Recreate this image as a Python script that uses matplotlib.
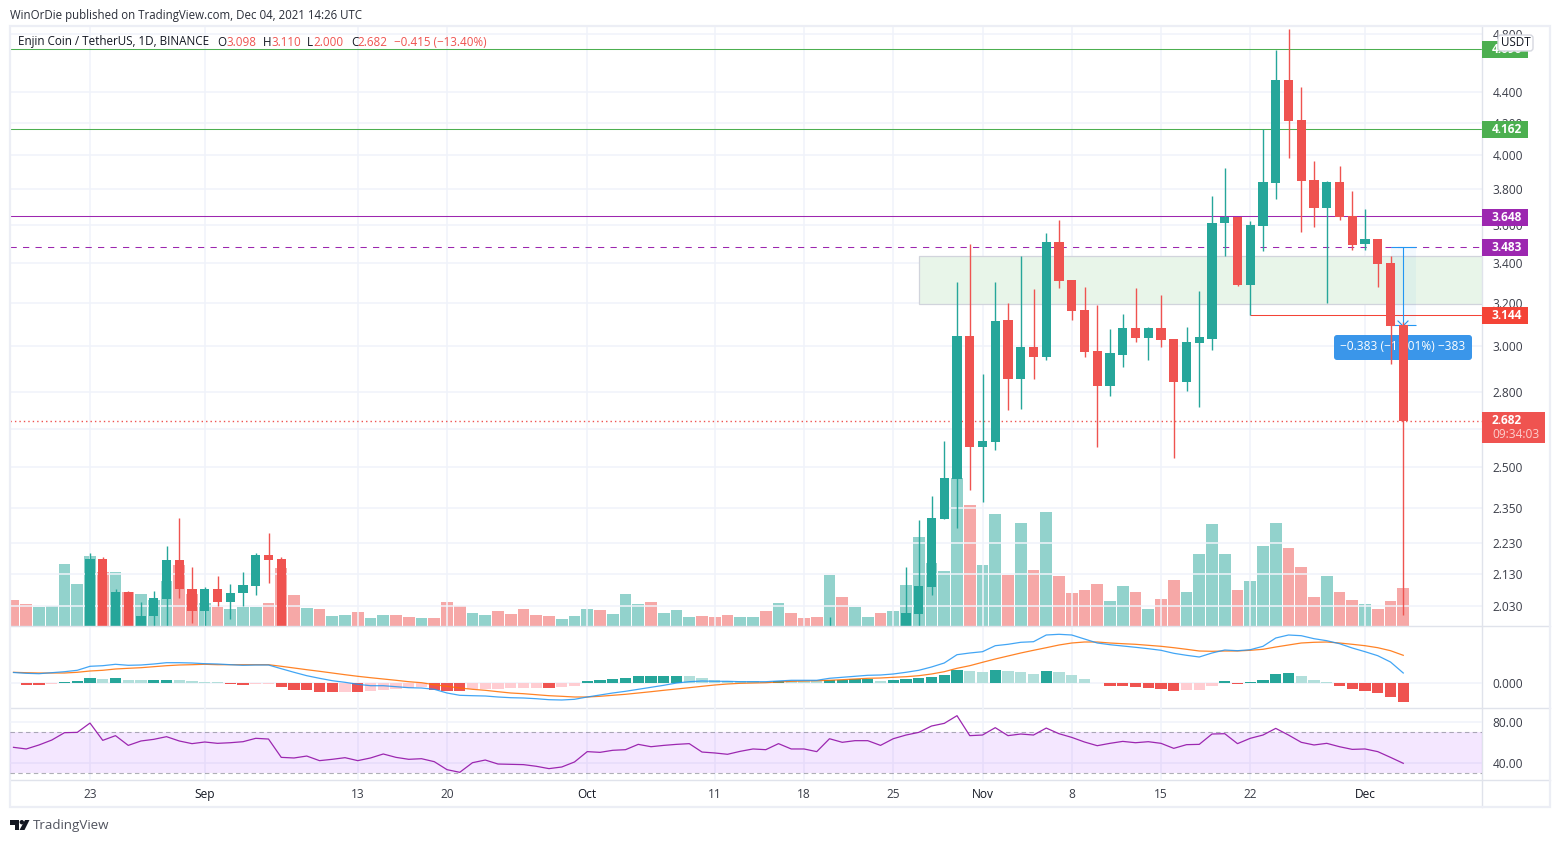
import numpy as np
import matplotlib
matplotlib.use("Agg")
import matplotlib.pyplot as plt
from matplotlib.patches import Rectangle, FancyBboxPatch, Polygon, Circle
from matplotlib.transforms import Affine2D
from matplotlib.ticker import NullLocator

plt.rcParams['font.family'] = ['Open Sans', 'DejaVu Sans']

# ---- data ----
candle_day = list(range(6, 22)) + [64] + list(range(70, 110))
opens = [1.93, 2.179, 1.92, 2.073, 1.93, 1.999, 2.051, 2.176, 2.083, 2.015, 2.080, 2.042, 2.070, 2.092, 2.192, 2.179,
         1.90,
         1.93, 2.006, 2.089, 2.314, 2.458, 3.045, 2.576, 2.596, 3.120, 2.858, 2.995, 2.950, 3.509, 3.314, 3.167, 2.977,
         2.824, 2.959, 3.082, 3.036, 3.082, 3.032, 2.845, 3.014, 3.032, 3.611, 3.643, 3.289, 3.595, 3.836, 4.480, 4.218,
         3.853, 3.694, 3.842, 3.649, 3.498, 3.525, 3.400, 3.098]
highs = [2.199, 2.185, 2.080, 2.076, 2.042, 2.076, 2.222, 2.318, 2.150, 2.089, 2.124, 2.098, 2.137, 2.199, 2.263, 2.185,
         1.994,
         2.153, 2.311, 2.396, 2.600, 3.303, 3.499, 2.876, 3.303, 3.200, 3.436, 3.269, 3.557, 3.628, 3.314, 3.279, 3.191,
         3.078, 3.148, 3.274, 3.087, 3.240, 3.032, 3.087, 3.259, 3.761, 3.923, 3.643, 3.622, 4.161, 4.688, 4.838, 4.433,
         3.965, 3.848, 3.935, 3.790, 3.688, 3.525, 3.436, 3.110]
lows = [1.90, 1.90, 1.90, 1.90, 1.90, 1.92, 1.94, 2.054, 1.979, 1.95, 2.030, 1.988, 2.030, 2.064, 2.101, 1.90,
        1.87,
        1.90, 1.93, 2.064, 2.314, 2.283, 2.418, 2.374, 2.568, 2.724, 2.728, 2.854, 2.937, 3.274, 3.120, 2.950, 2.576,
        2.782, 2.906, 3.018, 2.937, 2.999, 2.537, 2.803, 2.736, 2.982, 3.436, 3.284, 3.144, 3.462, 3.744, 3.983, 3.563,
        3.589, 3.201, 3.628, 3.467, 3.467, 3.279, 2.920, 2.000]
closes = [2.179, 1.93, 2.073, 1.92, 1.999, 2.054, 2.176, 2.083, 2.015, 2.080, 2.042, 2.070, 2.095, 2.192, 2.176, 1.92,
          1.94,
          2.009, 2.092, 2.318, 2.462, 3.045, 2.576, 2.600, 3.115, 2.854, 2.999, 2.950, 3.509, 3.309, 3.162, 2.973, 2.824,
          2.968, 3.082, 3.036, 3.082, 3.027, 2.841, 3.018, 3.041, 3.611, 3.643, 3.289, 3.600, 3.842, 4.480, 4.212, 3.848,
          3.694, 3.842, 3.643, 3.493, 3.525, 3.395, 3.092, 2.682]

volume = [26, 22, 19, 20, 62, 42, 70, 54, 54, 34, 32, 26, 45, 61, 32, 23, 19, 17, 19, 19, 23, 58, 31, 18, 17, 10, 11, 14,
          8, 11, 11, 9, 8, 8, 24, 20, 13, 11, 15, 12, 17, 11, 10, 7, 10, 17, 16, 12, 32, 22, 24, 13, 16, 9, 10, 9, 11, 9,
          9, 15, 23, 13, 8, 9, 51, 29, 19, 9, 13, 15, 41, 89, 63, 55, 148, 121, 61, 112, 51, 103, 56, 114, 50, 33, 36, 42,
          25, 40, 34, 17, 27, 46, 34, 72, 102, 72, 36, 45, 80, 103, 78, 59, 29, 50, 34, 26, 22, 17, 25, 38]
volume_side = "".join(["dduuuuudud", "uuudduduuu", "ddduduuduu", "dduddduudd", "ddduuuduuu", "duuuddduud",
                       "uddduduudu", "uuuuuduudu", "dudddduudu", "dduuuuduuu", "ddduddu" + "ddd"])

macd_line = [10.5, 9.7, 9.3, 10.3, 11.3, 12.7, 16.7, 17.3, 18.7, 17.7, 18, 19, 20.3, 20.3, 20, 19.3, 19, 18.3, 17.7, 18,
             18, 14.3, 10.7, 7.3, 4.7, 2.3, 0.7, -1.3, -2.7, -2.7, -3.7, -4.7, -5, -6.3, -10, -12.3, -12.7, -13, -14,
             -14.7, -15, -15.7, -16.7, -17, -16.3, -14, -12, -10, -8.3, -6.3, -4.3, -2.3, 0, 1.3, 2, 1.7, 1.7, 1.3, 1.3,
             1.3, 2, 2.7, 2.7, 2.7, 4.7, 5.7, 6.7, 7.7, 8, 9, 10.7, 12.7, 16, 20, 28.3, 30, 31.3, 37.3, 38.7, 40.7, 41.3,
             48, 48.7, 48, 44, 40, 38.3, 37, 35.7, 34.3, 32.7, 29.7, 27.7, 26, 30, 33, 32.3, 33.3, 36.7, 45, 48, 47.3,
             44.3, 42.3, 39.3, 35, 31.3, 27.3, 21, 10]
macd_signal = [10.7, 10.3, 10, 10, 10, 10.7, 12, 12.7, 14, 14.7, 15.3, 16.3, 17.3, 18, 18.3, 18.7, 18.3, 18.3, 18.3, 18.3,
               18.3, 16.7, 15, 13.3, 11.7, 10, 8.3, 6.7, 5.3, 4, 2.7, 1.3, 0.3, -1.7, -3.3, -5, -6.3, -7.3, -8.7, -10,
               -10.7, -11.7, -12.7, -13.3, -14, -14, -13.3, -12.3, -11.3, -10, -8.7, -7.3, -6, -4.7, -3.3, -2, -1, -0.3,
               0, 0.3, 1, 1.7, 2, 2.3, 2.7, 3.3, 4, 4.7, 5, 5.7, 6.3, 7.3, 9, 11.3, 14.7, 17.3, 20.7, 24, 27, 30, 32.7,
               35.3, 38, 40, 41, 41, 40, 39.3, 38.7, 37.7, 36.7, 35.3, 33.7, 32, 31.7, 32, 32, 32.7, 33.7, 36, 38, 40,
               40.7, 41, 40, 38.7, 37.3, 35.3, 32.3, 27.7]
macd_hist = [0.5, -1.5, -1.5, -0.7, 1.5, 2.5, 5.5, 4, 5.5, 3.3, 3.3, 3.3, 3.3, 3, 2, 1.5, 0.7, -1, -1.5, -0.7, -0.7, -4,
             -7, -7, -9, -9, -9, -9, -8, -7, -6, -5, -4, -7, -7.5, -7.5, -6, -5.5, -5.5, -5, -4.5, -4.5, -5, -4, -3, 1.7,
             3, 4, 5, 7, 7, 7, 7, 7, 5.5, 3.5, 2, 2, 2, 1.5, 2, 2, 1.7, 1.7, 3, 3.5, 3.7, 3.7, 2.3, 3.3, 4.3, 5.3, 6.3,
             8.3, 13.3, 12.3, 11.3, 13.3, 12.3, 11.3, 9.3, 12.3, 11.3, 8.3, 4.3, 0.3, -2.7, -2.7, -3.7, -4.7, -5.7, -7.7,
             -6.7, -6.7, -2.7, 1.7, -0.7, 1.3, 3.3, 9.3, 10.3, 7.3, 3.3, 1.3, -2.7, -5.7, -7.7, -9.7, -13.7, -18.7]
macd_hist_kind = "".join(["LRRPDDDLDL", "LDDLLLLRRP", "PRRRRRPRPP", "PPPRRRPPPP", "PPRPPDDDDD", "DDDLLLLLLL",
                          "DLLLDDDDLD", "DDDDDLLDLL", "LDLLLLRRRR", "RRPPPDRDDD", "DLLLRRRRRR"])

rsi = [55.3, 53.7, 57.6, 62.4, 69.6, 69.9, 79, 62.1, 66.7, 57.2, 61.5, 63.1, 65.7, 61.5, 58.9, 60.5, 59.2, 59.8, 60.8,
       64.1, 63.4, 45.5, 44.9, 46.8, 42.3, 43.6, 45.2, 42.3, 44.9, 48.8, 45.5, 43.6, 44.2, 41.3, 33.5, 30.9, 40.3, 42.9,
       39, 38.7, 38.4, 36.8, 34.5, 36.1, 41, 51.1, 50.4, 52.4, 53, 58.2, 55.9, 57.2, 58.2, 58.9, 50.7, 49.8, 48.5, 51.4,
       53.7, 53, 58.9, 53.7, 53.7, 51.1, 63.7, 60.2, 61.8, 61.8, 57.2, 63.7, 67.3, 69.9, 76.1, 78.7, 86.2, 66.7, 67.3,
       74.5, 66.7, 68.3, 67.3, 74.1, 68.6, 65, 60.5, 56.9, 59.2, 61.1, 59.8, 60.8, 59.2, 54.3, 57.9, 58.2, 68.3, 68.6,
       58.9, 64.1, 67.3, 73.8, 67.3, 60.2, 57.6, 59.2, 55.9, 53.3, 53.7, 51.1, 45.5, 39.7]

date_ticks = [6, 15, 27, 34, 45, 55, 62, 69, 76, 83, 90, 97, 106]
date_labels = ['23', 'Sep', '13', '20', 'Oct', '11', '18', '25', 'Nov', '8', '15', '22', 'Dec']
price_ticks = [4.8, 4.4, 4.2, 4.0, 3.8, 3.6, 3.4, 3.2, 3.0, 2.8, 2.65, 2.5, 2.35, 2.23, 2.13, 2.03]
hline_prices = {'res1': 4.696, 'res2': 4.162, 'res3': 3.648, 'dash': 3.483, 'ray': 3.144, 'last': 2.682}
zone_low, zone_high = 3.197, 3.436

# ---- style ----
UP, DOWN = '#26a69a', '#ef5350'
GRID = '#f0f3fa'
FRAME = '#e0e3eb'
TXT = '#3a3d48'
W, H = 1560, 843
fig = plt.figure(figsize=(W / 100, H / 100), dpi=100, facecolor='white')
px = Affine2D().scale(1, -1).translate(0, H)


def pane(top, bottom, z=2):
    a = fig.add_axes([10 / W, 1 - bottom / H, 1472 / W, (bottom - top) / H], zorder=z)
    a.set_xlim((10 - 13.5) / 12.75, (1482 - 13.5) / 12.75)
    a.patch.set_visible(False)
    for s in a.spines.values():
        s.set_visible(False)
    a.set_xticks(date_ticks)
    a.grid(True, color=GRID, lw=1.1)
    a.set_axisbelow(True)
    a.tick_params(length=0, labelbottom=False, labelleft=False, labelright=True, right=False, left=False,
                  pad=7.4, labelsize=8.6, labelcolor=TXT)
    return a


# volume, behind the candles
days = np.arange(len(volume))
ax_vol = fig.add_axes([10 / W, 1 - 626 / H, 1472 / W, 600 / H], zorder=1)
ax_vol.set_xlim((10 - 13.5) / 12.75, (1482 - 13.5) / 12.75)
ax_vol.set_ylim(0, 600)
ax_vol.axis('off')
ax_vol.bar(days, volume, width=0.92, color=[UP if s == 'u' else DOWN for s in volume_side], alpha=0.5, lw=0)

# price pane
ax = pane(26, 626)
ax.set_yscale('log')
ax.set_ylim(1.9686, 4.8605)
ax.yaxis.tick_right()
ax.set_yticks(price_ticks)
ax.set_yticklabels([f'{p:.3f}' for p in price_ticks])
ax.yaxis.set_minor_locator(NullLocator())
ax.tick_params(axis='y', which='both', length=0, labelright=True, labelleft=False)

ax.add_patch(Rectangle((71.05, zone_low), 60, zone_high - zone_low, facecolor='#e8f5e9', edgecolor='#d1d4dc',
                       lw=0.9, zorder=1.5))

cols = [UP if c >= o else DOWN for o, c in zip(opens, closes)]
ax.vlines(candle_day, lows, highs, colors=cols, lw=1.0, zorder=3)
ax.bar(candle_day, np.abs(np.array(closes) - np.array(opens)), bottom=np.minimum(opens, closes), width=0.71,
       color=cols, lw=0, zorder=3.1)

ax.axhline(hline_prices['res1'], color='#4caf50', lw=0.75, zorder=2.5)
ax.axhline(hline_prices['res2'], color='#4caf50', lw=0.75, zorder=2.5)
ax.axhline(hline_prices['res3'], color='#9c27b0', lw=0.75, zorder=2.5)
ax.axhline(hline_prices['dash'], color='#9c27b0', lw=0.75, ls=(0, (6, 6)), zorder=2.5)
ax.axhline(hline_prices['last'], color=DOWN, lw=1, ls=(0, (1, 2.2)), zorder=2.5)
ax.hlines(hline_prices['ray'], 97, 116, color='#f44336', lw=0.75, zorder=2.5)

# price range tool
ax.add_patch(Rectangle((108, hline_prices['ray'] - 0.05), 2, hline_prices['dash'] - hline_prices['ray'] + 0.05,
                       facecolor='#2196f3', alpha=0.05, lw=0, zorder=2.6))
ax.vlines(109, 3.1, hline_prices['dash'], color='#2196f3', lw=0.8, zorder=2.7)
ax.hlines([hline_prices['dash'], 3.098], 108, 110, color='#2196f3', lw=0.8, zorder=2.7)
ax.plot([1398, 1403, 1408], [321, 326, 321], color='#2196f3', lw=0.8, transform=px, clip_on=False, zorder=2.7)
ax.add_patch(FancyBboxPatch((1334, 335), 138, 25, boxstyle='round,pad=0,rounding_size=3', transform=px, clip_on=False,
                            facecolor='#3a96ea', edgecolor='none', lw=0, zorder=2.8))
ax.text(1403, 347, '\u22120.383 (\u221211.01%) \u2212383', color='white', ha='center', va='center', fontsize=8.6,
        transform=px, clip_on=False, zorder=2.9)

# macd pane
ax_m = pane(627, 708)
ax_m.set_ylim(-25, 56)
ax_m.yaxis.tick_right()
ax_m.set_yticks([0])
ax_m.set_yticklabels(['0.000'])
kinds = {'D': UP, 'L': '#b2dfdb', 'R': DOWN, 'P': '#ffcdd2'}
ax_m.bar(days, macd_hist, width=0.9, color=[kinds[k] for k in macd_hist_kind], lw=0)
ax_m.plot(days, macd_signal, color='#ff6d00', lw=0.9, alpha=.85)
ax_m.plot(days, macd_line, color='#2196f3', lw=0.9, alpha=.85)

# rsi pane
ax_r = pane(708, 780)
ax_r.set_ylim(23.4, 93.7)
ax_r.yaxis.tick_right()
ax_r.set_yticks([80, 40])
ax_r.set_yticklabels(['80.00', '40.00'])
ax_r.axhspan(30, 70, color='#9915ff', alpha=0.1, lw=0)
for lv in (70, 30):
    ax_r.axhline(lv, color='#787b86', lw=0.8, alpha=.6, ls=(0, (4, 3)))
ax_r.plot(days, rsi, color='#9c27b0', lw=0.9)
ax_r.set_xticks(date_ticks)
ax_r.set_xticklabels(date_labels)
ax_r.tick_params(axis='x', labelbottom=True, pad=5.5, labelsize=8.6)
for lab in ax_r.get_xticklabels():
    if lab.get_text().isalpha():
        lab.set_color('#131722')

# frame
for seg in ([(10, 626), (1550, 626)], [(10, 708), (1550, 708)], [(10, 780), (1550, 780)], [(1482, 26), (1482, 807)]):
    ax.plot(*zip(*seg), color=FRAME, lw=1, transform=px, clip_on=False, zorder=5)
ax.add_patch(Rectangle((10, 26), 1540, 781, transform=px, fill=False, edgecolor='#eceef5', lw=1.6, clip_on=False, zorder=5))


# price tags
def tag(price_y, text, color, h=17, w=46):
    price_y += 0.6
    ax.add_patch(Rectangle((1482, price_y - h / 2), w, h, transform=px, facecolor=color, lw=0, clip_on=False, zorder=6))
    ax.text(1507, price_y, text, color='white', fontweight='bold', ha='center', va='center', fontsize=8.6,
            transform=px, clip_on=False, zorder=7)


def y_of(price):
    return H - ax.transData.transform((0, price))[1]


tag(y_of(4.696), '4.696', '#4caf50')
tag(y_of(4.162), '4.162', '#4caf50')
tag(y_of(3.648), '3.648', '#9c27b0')
tag(y_of(3.483), '3.483', '#9c27b0')
tag(y_of(3.144), '3.144', '#f44336')
ax.add_patch(Rectangle((1482, 412), 63, 31, transform=px, facecolor=DOWN, lw=0, clip_on=False, zorder=6))
ax.text(1492, 420.5, '2.682', color='white', fontweight='bold', ha='left', va='center', fontsize=8.6,
        transform=px, clip_on=False, zorder=7)
ax.text(1492, 435, '09:34:03', color='#fbd0ce', ha='left', va='center', fontsize=8.6,
        transform=px, clip_on=False, zorder=7)

ax.add_patch(FancyBboxPatch((1500, 37), 31, 12, boxstyle='round,pad=2,rounding_size=3', transform=px, clip_on=False,
                            facecolor='white', edgecolor='#d6d8e0', lw=1, zorder=8))
ax.text(1515.5, 43, 'USDT', color='#131722', ha='center', va='center', fontsize=8.4, transform=px, clip_on=False, zorder=9)

# header texts
ax.text(10, 15, 'WinOrDie published on TradingView.com, Dec 04, 2021 14:26 UTC', color='#2a2e39', fontsize=8.3,
        va='center', transform=px, clip_on=False, zorder=9)
dark = '#131722'
for x, s, c in [(18, 'Enjin Coin / TetherUS, 1D, BINANCE', dark), (217, 'O', dark), (226, '3.098', DOWN),
                (263, 'H', dark), (271, '3.110', DOWN), (307, 'L', dark), (313, '2.000', DOWN), (351, 'C', dark),
                (357, '2.682', DOWN), (394, '\u22120.415 (\u221213.40%)', DOWN)]:
    ax.text(x, 42, s, color=c, fontsize=8.4, va='center', transform=px, clip_on=False, zorder=9)

# footer logo
ax.add_patch(Polygon([(10, 820), (19, 820), (19, 830), (14.5, 830), (14.5, 824.5), (10, 824.5)], transform=px,
                     facecolor='#131722', lw=0, clip_on=False))
ax.add_patch(Circle((21.8, 822.2), 2.2, transform=px, facecolor='#131722', lw=0, clip_on=False))
ax.add_patch(Polygon([(25, 820), (29.5, 820), (24.5, 830), (19.5, 830)], transform=px, facecolor='#131722', lw=0, clip_on=False))
ax.text(33, 825.5, 'TradingView', color='#50535e', fontsize=9.6, va='center', transform=px, clip_on=False)

fig.savefig('out.png', dpi=100)
